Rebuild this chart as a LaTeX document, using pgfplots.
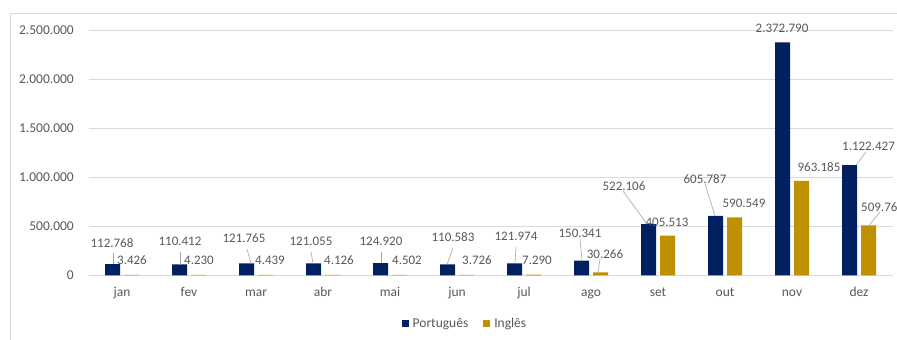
\documentclass[border=0pt]{standalone}
\usepackage{fontspec}
\setmainfont{Carlito}
\usepackage{pgfplots}
\pgfplotsset{compat=1.18}

\definecolor{navy}{HTML}{002060}
\definecolor{gold}{HTML}{BF9000}
\definecolor{txt}{HTML}{595959}
\definecolor{gridc}{HTML}{D9D9D9}
\definecolor{leader}{HTML}{A6A6A6}

\newcommand{\tickfont}{\fontsize{13.5}{16}\selectfont}
\newcommand{\lblfont}{\fontsize{13}{15}\selectfont}

\begin{document}
\begin{tikzpicture}[x=1pt,y=1pt,
  lbl/.style={font=\lblfont, text=txt, inner sep=0pt, anchor=center},
  ld/.style={draw=leader, line width=0.6pt}]
% canvas, y runs downward from the top edge
\fill[white] (0,0) rectangle (897,-340);
\draw[gridc, line width=0.8pt] (10,-13) rectangle (910,-360);

\begin{axis}[
  at={(88.5pt,-275.3pt)}, anchor=south west,
  scale only axis, width=804pt, height=245.3pt,
  xmin=-0.5, xmax=11.5, ymin=0, ymax=2500000,
  axis line style={draw=none},
  tick style={draw=none},
  ymajorgrids, grid style={gridc, line width=0.8pt},
  xtick={0,...,11},
  xticklabels={jan,fev,mar,abr,mai,jun,jul,ago,set,out,nov,dez},
  ytick={0,500000,1000000,1500000,2000000,2500000},
  scaled y ticks=false,
  /pgf/number format/fixed,
  /pgf/number format/1000 sep={.},
  /pgf/number format/assume math mode=true,
  yticklabel style={anchor=east, inner sep=0pt, xshift=-14.5pt, font=\tickfont, text=txt},
  xticklabel style={anchor=base, inner sep=0pt, yshift=-21pt, font=\tickfont, text=txt},
  clip=false,
  legend columns=2,
  legend image code/.code={\fill[#1,/tikz/.cd] (0pt,-3.5pt) rectangle (7pt,3.5pt);},
  legend style={at={(0.467,-0.1985)}, anchor=center, draw=none, fill=none,
    font=\tickfont, text=txt, inner sep=0pt,
    nodes={inner sep=0pt},
    /tikz/every odd column/.append style={column sep=4pt},
    /tikz/every even column/.append style={column sep=15pt}},
  legend cell align=left,
]
\addplot[ybar, bar width=15pt, bar shift=-9.5pt, fill=navy, draw=none] coordinates {
  (0,112768) (1,110412) (2,121765) (3,121055) (4,124920) (5,110583)
  (6,121974) (7,150341) (8,522106) (9,605787) (10,2372790) (11,1122427)};
\addlegendentry{Português}
\addplot[ybar, bar width=15pt, bar shift=9.5pt, fill=gold, draw=none] coordinates {
  (0,3426) (1,4230) (2,4439) (3,4126) (4,4502) (5,3726)
  (6,7290) (7,30266) (8,405513) (9,590549) (10,963185) (11,509763)};
\addlegendentry{Inglês}
\end{axis}

% data labels with leader lines
\node[lbl] at (112,-243) {112.768};  \node[lbl] at (132,-260) {3.426};
\draw[ld] (113,-253) -- (113,-264);
\node[lbl] at (180,-241) {110.412};  \node[lbl] at (199,-260) {4.230};
\draw[ld] (180,-252) -- (180,-264.5);
\node[lbl] at (244,-238) {121.765};  \node[lbl] at (270,-260) {4.439};
\draw[ld] (247,-249) -- (251,-263.4);
\node[lbl] at (311,-241) {121.055};  \node[lbl] at (339,-260) {4.126};
\draw[ld] (311,-252) -- (313,-263.4);
\node[lbl] at (381,-241) {124.920};  \node[lbl] at (407,-260) {4.502};
\draw[ld] (381,-252) -- (381,-263);
\node[lbl] at (453,-237) {110.583};  \node[lbl] at (477,-260) {3.726};
\draw[ld] (453,-248) -- (447,-264.5);
\node[lbl] at (516,-236) {121.974};  \node[lbl] at (537,-260) {7.290};
\draw[ld] (516,-247) -- (515,-263.3);
\node[lbl] at (580,-233) {150.341};  \node[lbl] at (605,-254) {30.266};
\draw[ld] (580,-239) -- (582,-260.6);
\draw[ld] (600,-259) -- (598,-272.3);
\node[lbl] at (624,-186) {522.106};  \node[lbl] at (667,-222) {405.513};
\draw[ld] (623,-191) -- (647,-224.1);
\node[lbl] at (705,-179) {605.787};  \node[lbl] at (744,-203) {590.549};
\draw[ld] (705,-184) -- (715,-215.9);
\node[lbl] at (782,-28) {2.372.790}; \node[lbl] at (819,-167) {963.185};
\node[lbl] at (868.5,-146) {1.122.427};
\draw[ld] (866,-152) -- (856,-165.3);
\node[lbl, anchor=west] at (861,-207) {509.763};
\draw[ld] (880,-212) -- (869,-225.3);

\pgfresetboundingbox
\path (0,0) rectangle (897,-340);
\end{tikzpicture}
\end{document}
